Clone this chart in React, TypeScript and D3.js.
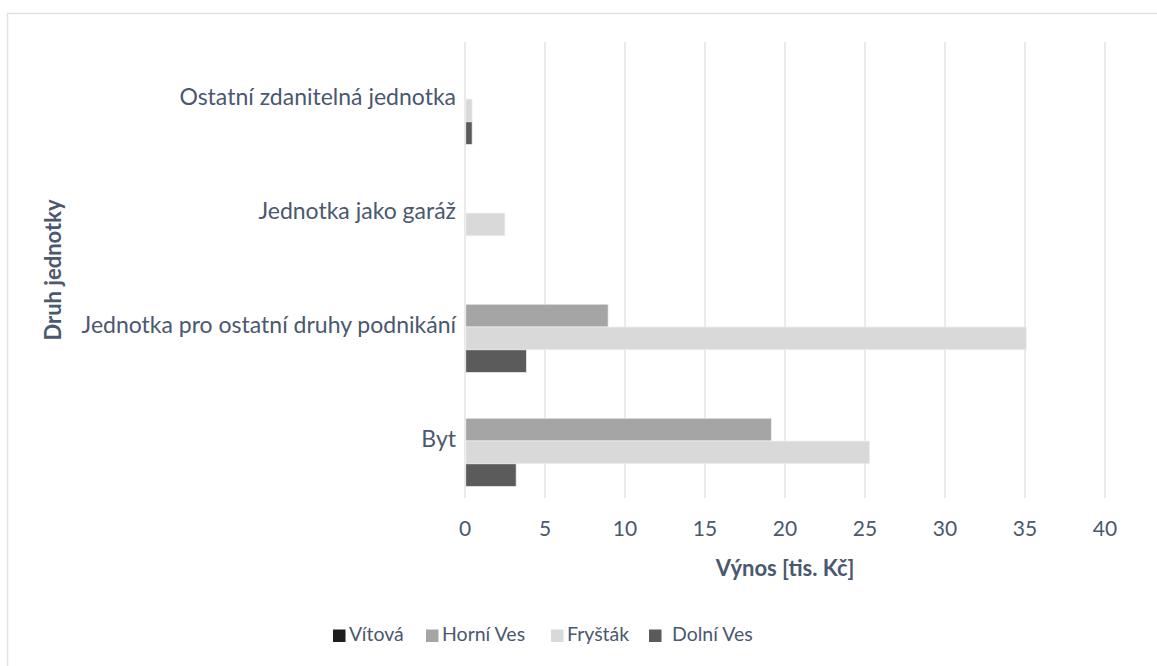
import { useEffect, useRef } from 'react';
import * as d3 from 'd3';

const categories = [
  'Byt',
  'Jednotka pro ostatní druhy podnikání',
  'Jednotka jako garáž',
  'Ostatní zdanitelná jednotka',
];
const seriesNames = ['Vítová', 'Horní Ves', 'Fryšták', 'Dolní Ves'];
const vitova = [0, 0, 0, 0];
const horniVes = [19.1, 8.9, 0, 0];
const frystak = [25.25, 35.05, 2.45, 0.4];
const dolniVes = [3.15, 3.8, 0, 0.4];
const xTicks = [0, 5, 10, 15, 20, 25, 30, 35, 40];

const colors = ['#1e1e1e', '#a5a5a5', '#d9d9d9', '#5b5b5b'];
const textColor = '#4a5870';
const gridColor = '#dfe3e9';
const font = 'Lato, "Open Sans", sans-serif';

export default function App() {
  const svgRef = useRef<SVGSVGElement>(null);

  useEffect(() => {
    if (!svgRef.current) return;
    const svg = d3.select(svgRef.current);
    svg.selectAll('*').remove();

    const W = 1157;
    const H = 666;
    const plot = { left: 465, right: 1105, top: 42, bottom: 498 };

    // chart area frame
    svg
      .append('rect')
      .attr('x', 7.5)
      .attr('y', 13.5)
      .attr('width', W)
      .attr('height', H)
      .attr('fill', '#fff')
      .attr('stroke', gridColor)
      .attr('stroke-width', 1.5);

    const x = d3.scaleLinear().domain([0, 40]).range([plot.left, plot.right]);

    // top to bottom: last category at top
    const y = d3
      .scaleBand<string>()
      .domain([...categories].reverse())
      .range([plot.top, plot.bottom])
      .padding(0);

    const bw = y.bandwidth();
    const inner = d3
      .scaleBand<string>()
      .domain(seriesNames)
      .range([bw * 0.1, bw * 0.9])
      .padding(0);

    // grid
    svg
      .append('g')
      .selectAll('line')
      .data(xTicks)
      .join('line')
      .attr('x1', (d) => x(d))
      .attr('x2', (d) => x(d))
      .attr('y1', plot.top)
      .attr('y2', plot.bottom)
      .attr('stroke', gridColor)
      .attr('stroke-width', 1.5);

    // bars
    const series = [vitova, horniVes, frystak, dolniVes];
    series.forEach((vals, si) => {
      svg
        .append('g')
        .selectAll('rect')
        .data(categories.map((c, i) => ({ c, v: vals[i] })))
        .join('rect')
        .attr('x', x(0) + 0.75)
        .attr('y', (d) => (y(d.c) as number) + (inner(seriesNames[si]) as number))
        .attr('width', (d) => Math.max(0, x(d.v) - x(0)))
        .attr('height', inner.bandwidth())
        .attr('fill', colors[si])
        .attr('stroke', (d) => (d.v > 0 ? '#f2f2f2' : 'none'))
        .attr('stroke-width', 0.75);
    });

    // x tick labels
    svg
      .append('g')
      .selectAll('text')
      .data(xTicks)
      .join('text')
      .attr('x', (d) => x(d))
      .attr('y', 531)
      .attr('text-anchor', 'middle')
      .attr('dominant-baseline', 'middle')
      .attr('font-family', font)
      .attr('font-size', 21)
      .attr('fill', textColor)
      .text((d) => d);

    // category labels
    svg
      .append('g')
      .selectAll('text')
      .data(categories)
      .join('text')
      .attr('x', plot.left - 9)
      .attr('y', (d) => (y(d) as number) + bw / 2)
      .attr('text-anchor', 'end')
      .attr('dominant-baseline', 'middle')
      .attr('font-family', font)
      .attr('font-size', 23)
      .attr('fill', textColor)
      .text((d) => d);

    // axis titles
    svg
      .append('text')
      .attr('x', (plot.left + plot.right) / 2)
      .attr('y', 570)
      .attr('text-anchor', 'middle')
      .attr('dominant-baseline', 'middle')
      .attr('font-family', font)
      .attr('font-size', 22)
      .attr('font-weight', 'bold')
      .attr('fill', textColor)
      .text('Výnos [tis. Kč]');

    svg
      .append('text')
      .attr('transform', `translate(55,${(plot.top + plot.bottom) / 2}) rotate(-90)`)
      .attr('text-anchor', 'middle')
      .attr('dominant-baseline', 'middle')
      .attr('font-family', font)
      .attr('font-size', 22)
      .attr('font-weight', 'bold')
      .attr('fill', textColor)
      .text('Druh jednotky');

    // legend
    const legendX = [333, 426, 551, 649];
    const legend = svg
      .append('g')
      .selectAll('g')
      .data(seriesNames)
      .join('g')
      .attr('transform', (_, i) => `translate(${legendX[i]},636)`);
    legend
      .append('rect')
      .attr('x', 0)
      .attr('y', -6.5)
      .attr('width', 12.5)
      .attr('height', 12.5)
      .attr('fill', (_, i) => colors[i]);
    legend
      .append('text')
      .attr('x', (_, i) => (i === 3 ? 23 : 16))
      .attr('y', 0)
      .attr('dominant-baseline', 'middle')
      .attr('font-family', font)
      .attr('font-size', 19.5)
      .attr('fill', textColor)
      .text((d) => d);
  }, []);

  return (
    <div style={{ position: 'fixed', left: 0, top: 0, width: 1157, height: 666, background: '#fff' }}>
      <svg ref={svgRef} width={1157} height={666} style={{ display: 'block' }}></svg>
    </div>
  );
}
